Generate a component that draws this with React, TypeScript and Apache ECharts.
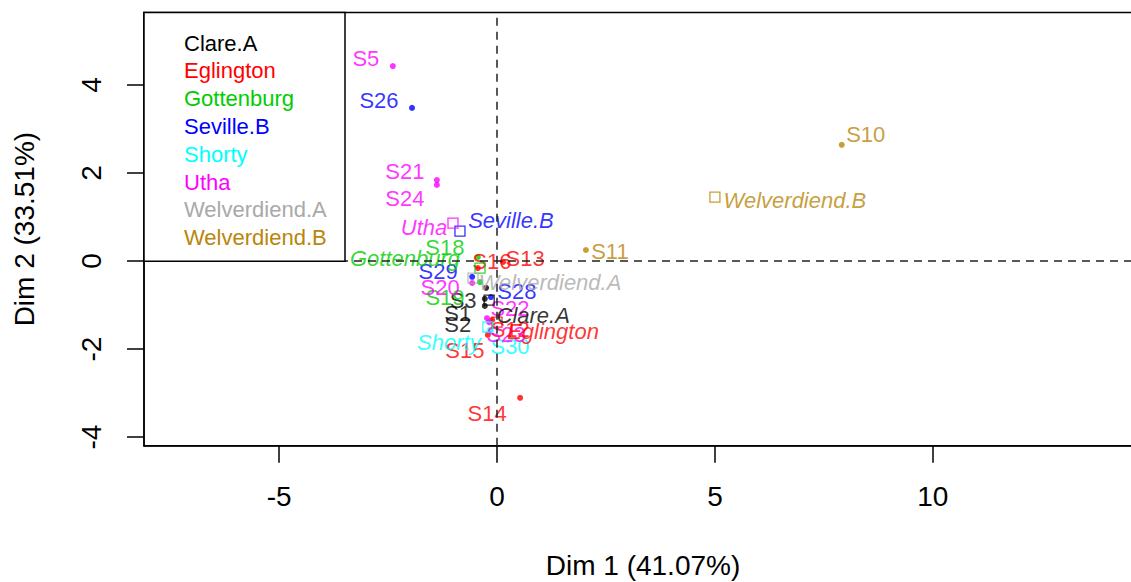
import React, { useEffect, useRef } from "react";
import * as echarts from "echarts";

// Groups (cultivars) and their colours
const groupNames = ["Clare.A", "Eglington", "Gottenburg", "Seville.B", "Shorty", "Utha", "Welverdiend.A", "Welverdiend.B"];
const groupColors = ["#000000", "#FF0000", "#00CD00", "#0000FF", "#00FFFF", "#FF00FF", "#A9A9A9", "#B8860B"];

// Group centroids on Dim 1 / Dim 2
const centroidX = [-0.18, 0.0, -0.39, -0.85, -0.21, -1.01, -0.55, 5.0];
const centroidY = [-0.89, -1.39, -0.16, 0.68, -1.5, 0.86, -0.39, 1.45];

// Individual samples
const sampleNames = ["S1", "S2", "S3", "S12", "S13", "S14", "S15", "S16", "S18", "S19", "S26", "S28", "S29", "S30", "S5", "S20", "S21", "S22", "S23", "S24", "S10", "S11"];
const sampleGroup = ["Clare.A", "Clare.A", "Clare.A", "Eglington", "Eglington", "Eglington", "Eglington", "Eglington", "Gottenburg", "Gottenburg", "Seville.B", "Seville.B", "Seville.B", "Shorty", "Utha", "Utha", "Utha", "Utha", "Utha", "Utha", "Welverdiend.B", "Welverdiend.B"];
const sampleX = [-0.28, -0.28, -0.25, -0.11, 0.14, 0.53, -0.21, -0.44, -0.44, -0.39, -1.95, -0.14, -0.57, -0.16, -2.39, -0.57, -1.38, -0.23, -0.18, -1.38, 7.91, 2.04];
const sampleY = [-0.86, -1.02, -0.61, -1.34, -0.02, -3.11, -1.68, -0.16, 0.09, -0.48, 3.48, -0.82, -0.36, -1.57, 4.43, -0.5, 1.84, -1.3, -1.39, 1.73, 2.64, 0.25];

// Axis ticks
const xTicks = [-5, 0, 5, 10];
const yTicks = [-4, -2, 0, 2, 4];

// Where each text label sits relative to its point (pixels)
const labelOffset: Record<string, [number, number]> = {
  S5: [-27, -8], S26: [-33, -7], S21: [-32, -9], S24: [-32, 14], S10: [24, -10], S11: [24, 1],
  S14: [-33, 16], S18: [-33, -10], S16: [14, -7], S13: [22, -3], S29: [-34, -5], S20: [-32, 4],
  S19: [-35, 15], S3: [-23, 13], S1: [-27, 15], S2: [-27, 19], S15: [-23, 16], S28: [26, -6],
  S22: [23, -10], S23: [17, 12], S12: [18, 10], S30: [20, 16],
  "Welverdiend.B": [80, 3], Utha: [-29, 4], "Seville.B": [51, -11], Gottenburg: [-75, -10],
  "Welverdiend.A": [77, 4], "Clare.A": [44, 15], Eglington: [56, 9], Shorty: [-39, 15],
};

const FONT = "'Liberation Sans', Arial, sans-serif";

export default function App() {
  const ref = useRef<HTMLDivElement>(null);

  useEffect(() => {
    if (!ref.current) return;
    const chart = echarts.init(ref.current, undefined, { renderer: "svg" });

    const series: any[] = [];

    // reference lines through the origin
    series.push({
      type: "scatter",
      data: [],
      silent: true,
      z: 1,
      markLine: {
        silent: true,
        symbol: ["none", "none"],
        label: { show: false },
        lineStyle: { type: [8, 6], color: "#222", width: 1.5 },
        data: [{ xAxis: 0 }, { yAxis: 0 }],
      },
    });

    groupNames.forEach((g, gi) => {
      const color = groupColors[gi];
      const pts = sampleNames
        .map((n, i) => ({ n, i }))
        .filter((d) => sampleGroup[d.i] === g)
        .map((d) => ({
          name: d.n,
          value: [sampleX[d.i], sampleY[d.i]],
          label: { offset: labelOffset[d.n] || [0, -14] },
        }));
      series.push({
        type: "scatter",
        name: g,
        symbol: "circle",
        symbolSize: 6,
        itemStyle: { color },
        label: {
          show: true,
          position: "inside",
          formatter: "{b}",
          color,
          fontSize: 22,
          fontFamily: FONT,
        },
        data: pts,
        z: 3,
      });
      series.push({
        type: "scatter",
        name: g + " centre",
        symbol: "rect",
        symbolSize: 10,
        itemStyle: { color: "rgba(255,255,255,0)", borderColor: color, borderWidth: 1.3 },
        label: {
          show: true,
          position: "inside",
          formatter: "{b}",
          color,
          fontSize: 22,
          fontStyle: "italic",
          fontFamily: FONT,
        },
        data: [{ name: g, value: [centroidX[gi], centroidY[gi]], label: { offset: labelOffset[g] || [0, -14] } }],
        z: 4,
      });
    });

    // legend box in the top-left corner
    const legendLeft = 144;
    const legendTop = 12.4;
    const legendChildren: any[] = [
      {
        type: "rect",
        z: 100,
        shape: { x: legendLeft, y: legendTop, width: 201, height: 248.8 },
        style: { fill: "#fff", stroke: "#000", lineWidth: 1.5 },
      },
    ];
    groupNames.forEach((g, gi) => {
      legendChildren.push({
        type: "text",
        z: 101,
        x: 184,
        y: 43 + gi * 27.8,
        style: {
          text: g,
          fill: groupColors[gi],
          font: `22px ${FONT}`,
          verticalAlign: "middle",
          align: "left",
        },
      });
    });

    chart.setOption({
      animation: false,
      backgroundColor: "#fff",
      textStyle: { fontFamily: FONT },
      grid: {
        left: 144,
        top: 12.4,
        right: 18,
        bottom: 136.2,
        outerBoundsMode: "none",
        containLabel: false,
        show: true,
        borderColor: "#000",
        borderWidth: 1.5,
        backgroundColor: "transparent",
      },
      xAxis: {
        type: "value",
        position: "bottom",
        min: -8.1,
        max: 14.8,
        name: "Dim 1 (41.07%)",
        nameLocation: "middle",
        nameGap: 106,
        nameTextStyle: { fontSize: 28, color: "#000", fontFamily: FONT },
        axisLine: { show: true, onZero: false, lineStyle: { color: "#000", width: 1.5 } },
        splitLine: { show: false },
        axisTick: { show: true, length: 17, customValues: xTicks, lineStyle: { color: "#000", width: 1.5 } },
        axisLabel: { customValues: xTicks, fontSize: 28, color: "#000", margin: 37, fontFamily: FONT },
      },
      yAxis: {
        type: "value",
        position: "left",
        min: -4.2,
        max: 5.65,
        name: "Dim 2 (33.51%)",
        nameLocation: "middle",
        nameGap: 106,
        nameTextStyle: { fontSize: 28, color: "#000", fontFamily: FONT },
        axisLine: { show: true, onZero: false, lineStyle: { color: "#000", width: 1.5 } },
        splitLine: { show: false },
        axisTick: { show: true, length: 17, customValues: yTicks, lineStyle: { color: "#000", width: 1.5 } },
        axisLabel: { customValues: yTicks, fontSize: 28, color: "#000", margin: 39, rotate: 90, fontFamily: FONT },
      },
      graphic: [{ type: "group", z: 100, children: legendChildren }],
      series,
    });

    return () => chart.dispose();
  }, []);

  return (
    <div
      ref={ref}
      style={{ position: "fixed", left: 0, top: 0, width: 1160, height: 582, background: "#fff" }}
    />
  );
}
